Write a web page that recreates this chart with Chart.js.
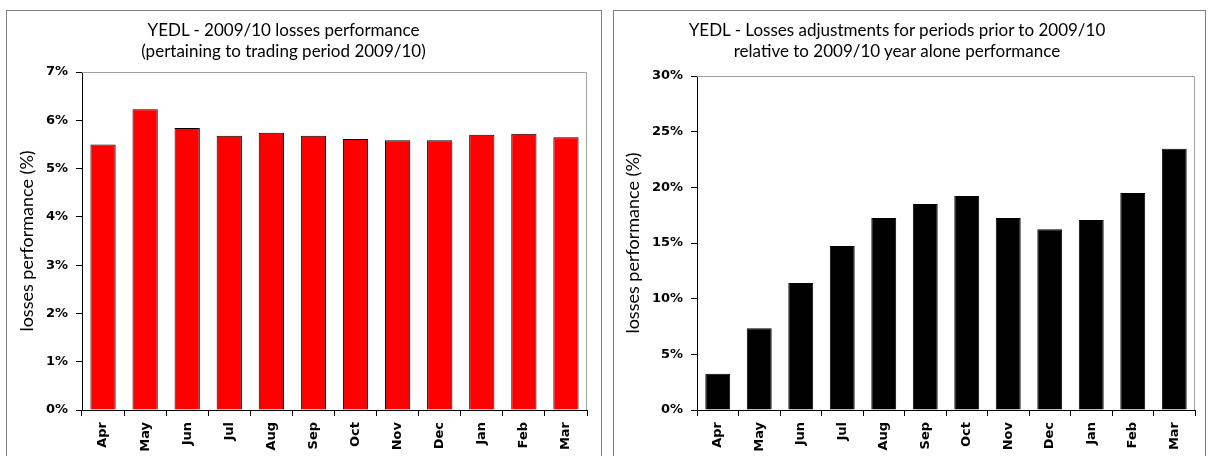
<!DOCTYPE html>
<html>
<head>
<meta charset="utf-8">
<script src="https://cdn.jsdelivr.net/npm/chart.js@4"></script>
<style>
  body { margin: 0; background: #fff; width: 1212px; height: 456px; overflow: hidden; position: relative; }
  canvas { position: absolute; top: 0; }
  .panel { position: absolute; top: 10px; height: 470px; border: 1px solid #808080; box-sizing: border-box; pointer-events: none; }
  .title { position: absolute; top: 19px; font-family: Lato, sans-serif; font-size: 17px; line-height: 21px; text-align: center; color: #000; }
</style>
</head>
<body>
<canvas id="leftChart" width="606" height="456" style="left:0"></canvas>
<canvas id="rightChart" width="606" height="456" style="left:606px"></canvas>
<div class="panel" style="left:6px; width:596px"></div>
<div class="panel" style="left:613px; width:593px"></div>
<div class="title" style="left:6px; width:555px">YEDL - 2009/10 losses performance<br>(pertaining to trading period 2009/10)</div>
<div class="title" style="left:613px; width:568px">YEDL - Losses adjustments for periods prior to 2009/10<br>relative to 2009/10 year alone performance</div>
<script>
// months of the 2009/10 year
const months = ['Apr', 'May', 'Jun', 'Jul', 'Aug', 'Sep', 'Oct', 'Nov', 'Dec', 'Jan', 'Feb', 'Mar'];

// 2009/10 losses performance (%)
const lossesPerformance = [5.50, 6.23, 5.84, 5.68, 5.74, 5.68, 5.61, 5.585, 5.585, 5.70, 5.72, 5.65];

// adjustments for prior periods relative to 2009/10 alone (%)
const priorAdjustments = [3.26, 7.34, 11.4, 14.72, 17.25, 18.5, 19.22, 17.25, 16.24, 17.07, 19.49, 23.46];

const leftTicks = { min: 0, max: 7, step: 1 };
const rightTicks = { min: 0, max: 30, step: 5 };

const tickFont = { family: 'DejaVu Sans', size: 13, weight: 'bold' };

// grey line along the top and right of the plot area, like Excel
const plotFrame = {
    id: 'plotFrame',
    afterDraw(chart) {
        const a = chart.chartArea;
        const c = chart.ctx;
        c.save();
        c.strokeStyle = '#a0a0a0';
        c.lineWidth = 1;
        c.beginPath();
        c.moveTo(a.left, a.top + 0.5);
        c.lineTo(a.right - 0.5, a.top + 0.5);
        c.lineTo(a.right - 0.5, a.bottom);
        c.stroke();
        c.restore();
    }
};

function makeChart(id, values, fill, ticks, axisWidth, pad) {
    return new Chart(document.getElementById(id), {
        type: 'bar',
        data: {
            labels: months,
            datasets: [{
                data: values,
                backgroundColor: fill,
                borderColor: '#000',
                borderWidth: 1,
                categoryPercentage: 0.6,
                barPercentage: 1
            }]
        },
        options: {
            responsive: false,
            animation: false,
            devicePixelRatio: 1,
            layout: { padding: pad },
            plugins: { legend: { display: false }, tooltip: { enabled: false } },
            scales: {
                x: {
                    grid: { offset: true, drawOnChartArea: false, drawTicks: true, tickLength: 6, color: '#000' },
                    border: { display: true, color: '#000', width: 1 },
                    ticks: { color: '#000', font: tickFont, minRotation: 90, maxRotation: 90, padding: 6 },
                    afterFit(s) { s.height = 46; }
                },
                y: {
                    min: ticks.min,
                    max: ticks.max,
                    grid: { drawOnChartArea: false, drawTicks: true, tickLength: 6, color: '#000' },
                    border: { display: true, color: '#000', width: 1 },
                    ticks: {
                        stepSize: ticks.step,
                        color: '#000',
                        font: tickFont,
                        padding: 8,
                        callback: v => v + '%'
                    },
                    title: {
                        display: true,
                        text: 'losses performance (%)',
                        color: '#000',
                        font: { family: 'Lato', size: 18 },
                        padding: { top: 16, bottom: 0 }
                    },
                    afterFit(s) { s.width = axisWidth; }
                }
            }
        },
        plugins: [plotFrame]
    });
}

makeChart('leftChart', lossesPerformance, '#ff0000', leftTicks, 82, { left: 0, right: 19, top: 72, bottom: 0 });
makeChart('rightChart', priorAdjustments, '#000000', rightTicks, 91, { left: 0, right: 17, top: 76, bottom: 0 });
</script>
</body>
</html>
